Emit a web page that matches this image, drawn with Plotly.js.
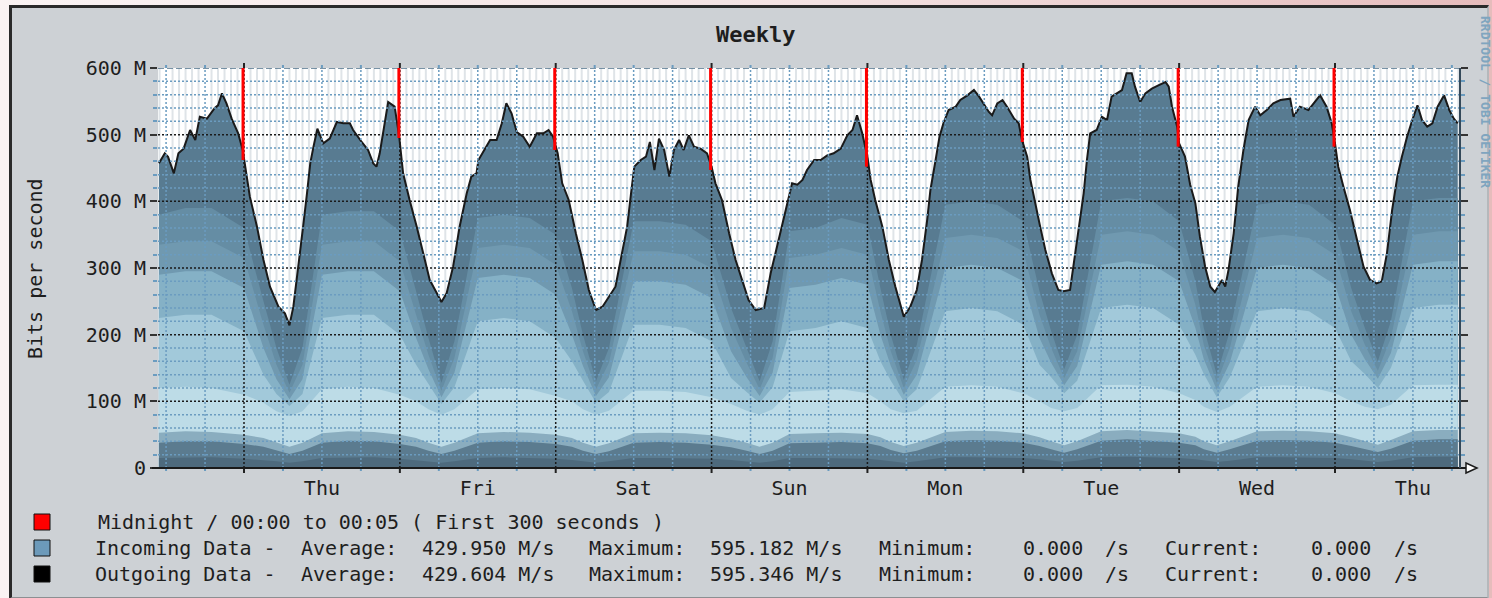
<!DOCTYPE html>
<html><head><meta charset="utf-8">
<script src="https://cdn.plot.ly/plotly-3.0.1.min.js"></script>
<style>
html,body{margin:0;padding:0;width:1492px;height:598px;overflow:hidden;background:linear-gradient(90deg,#faf3f3 0%,#f3e2e2 55%,#e6bcbc 100%);}
#frame{position:absolute;left:9px;top:5px;width:1475px;height:589px;background:#cdd1d5;border-top:3px solid #2a2a2a;border-left:3px solid #2a2a2a;border-bottom:2px solid #8c8f92;border-right:2px solid #b5b8bb;}
#chart{position:absolute;left:0;top:0;width:1492px;height:598px;}
</style></head><body><div id="frame"></div><div id="chart"></div>
<script>
// ---- data (hours since Wednesday 00:00, values in M bits/s) ----
const topHours = [10.9,11.8,12.3,13.2,13.9,14.7,15.7,16.5,17.2,18.3,19.5,20.0,20.6,21.3,22.1,23.1,23.8,24.4,24.9,26.0,27.0,28.0,29.3,30.3,31.0,31.6,32.4,33.1,33.7,34.2,34.7,35.3,36.2,37.2,38.3,39.3,40.3,40.8,41.9,43.1,43.9,44.4,44.9,45.7,46.2,47.2,47.9,
48.5,49.0,49.5,50.6,51.6,52.6,53.7,54.4,55.2,56.2,57.2,58.3,59.0,59.8,60.1,60.8,61.9,62.9,63.7,64.4,65.2,66.0,67.0,68.0,69.1,70.1,70.9,71.6,
72.3,73.0,74.0,75.1,76.1,77.1,78.2,79.2,80.2,81.2,82.0,83.0,83.6,84.1,85.1,85.9,86.5,87.2,87.9,88.7,89.5,90.2,91.0,91.7,92.5,93.3,94.3,95.3,96.0,
96.6,97.6,98.7,99.7,100.7,101.7,102.8,104.1,105.1,106.1,107.1,107.7,108.4,109.2,110.0,110.7,111.8,112.8,113.8,114.8,115.9,116.9,117.7,118.4,119.2,120.0,
120.5,121.2,122.3,123.3,124.3,125.6,126.6,127.6,128.4,129.2,129.7,130.5,131.1,131.7,132.5,133.6,134.3,135.4,136.4,137.2,137.9,138.7,139.2,140.0,140.8,141.5,142.6,143.3,143.8,
144.6,145.1,145.8,146.6,147.4,148.4,149.4,150.2,151.2,151.7,152.5,153.3,153.8,154.3,155.3,156.1,156.9,157.6,158.4,159.2,159.9,160.7,161.2,162.0,162.8,163.8,164.8,165.9,166.4,166.9,167.7,168.0,
168.9,169.7,170.5,171.2,172.0,172.8,173.5,174.6,175.1,175.6,176.4,177.1,177.9,178.7,179.7,180.5,181.5,182.5,183.6,185.1,185.6,186.6,187.9,188.9,189.7,190.7,191.5,192.0,
192.5,193.3,194.3,195.4,196.4,197.4,198.4,199.2,200.0,200.8,201.6,202.3,203.1,203.9,204.7,205.4,206.2,207.0,207.8,208.8,209.6,210.3,210.9];
const topValues = [457,472,467,442,472,479,507,492,527,524,540,544,562,547,524,502,477,442,407,362,312,272,242,232,214,242,302,362,412,457,482,509,487,494,519,517,517,507,492,477,457,452,472,517,549,542,497,
442,420,402,362,322,282,262,249,262,302,362,412,437,442,462,474,492,492,517,547,532,504,497,482,502,502,507,497,
472,427,402,352,312,267,237,242,257,272,312,362,412,452,462,467,489,447,494,477,437,477,492,477,499,482,479,472,452,
427,402,352,312,282,252,237,240,292,332,372,397,427,425,432,447,462,462,469,472,479,499,507,529,502,467,
432,402,362,312,272,227,242,267,312,372,417,462,497,517,537,542,552,559,567,557,547,534,529,547,552,542,524,517,492,
467,432,397,362,327,292,267,265,267,302,352,412,462,502,507,527,522,557,562,567,592,592,572,549,562,569,574,579,572,542,512,487,
467,425,397,347,302,272,264,282,272,297,352,422,477,522,542,529,537,547,552,554,527,542,537,549,559,542,517,487,
452,422,387,342,302,282,277,280,322,387,437,467,497,522,544,522,512,517,542,559,537,524,517];

const bandHours = [10.9,15,19,
 24,27,29,31,33,36,40,44,
 48,50.5,52.4,54.4,56.4,60,64,68,
 72,74.5,76.2,78.2,80.2,84,88,92,
 96,99,101.4,103.4,105.4,108,112,116,
 120,122,123.6,125.6,127.6,132,136,140,
 144,146.5,148.3,150.3,152.3,156,160,164,
 168,170.5,171.8,173.8,175.8,180,184,188,
 192,194.5,196.6,198.6,200.6,204,208,210.9];
const band7 = [380,390,390, 360,250,180,125,180,380,385,385, 355,265,195,128,190,375,380,375, 350,270,200,130,180,370,370,365, 340,240,180,130,190,355,360,375, 365,270,200,132,185,395,400,395, 370,265,205,148,200,400,405,400, 370,280,210,140,205,395,400,395, 365,270,210,160,220,400,405,405];
const band6 = [335,340,340, 315,215,155,113,155,335,340,340, 310,230,170,116,165,330,335,330, 305,235,175,118,158,325,325,320, 300,210,158,118,165,315,320,330, 320,235,175,120,162,345,350,345, 325,230,180,135,175,350,355,350, 325,245,185,128,180,345,350,345, 320,235,185,146,195,350,355,355];
const band5 = [290,295,295, 270,180,133,103,133,290,295,295, 265,195,148,106,143,285,290,285, 260,200,153,108,136,280,280,275, 255,175,136,108,143,270,275,285, 275,200,153,110,140,300,305,300, 280,195,158,124,153,305,310,305, 280,210,163,117,158,300,305,300, 275,200,163,134,172,305,310,310];
const band4 = [225,230,230, 205,140,111,93,111,225,230,230, 200,155,126,96,121,220,225,220, 195,160,131,98,114,215,215,210, 190,135,114,98,121,205,210,220, 210,160,131,100,118,235,240,235, 215,155,136,112,131,240,245,240, 215,170,141,106,136,235,240,235, 210,160,141,120,150,240,245,245];
const band3 = [120,122,120, 110,98,85,78,85,118,122,120, 110,100,88,80,88,118,120,118, 108,100,88,80,86,116,116,114, 106,96,86,80,88,114,116,118, 112,100,88,82,86,122,124,122, 112,100,90,85,90,124,125,122, 112,102,92,84,92,122,124,122, 112,100,92,88,95,124,125,125];
const band2 = [53,55,54, 50,45,38,32,38,52,55,54, 50,45,38,32,38,52,54,53, 50,45,38,32,37,52,53,52, 49,44,38,32,38,51,52,53, 51,46,39,33,38,54,56,55, 52,46,40,34,40,55,57,55, 52,47,40,34,40,55,56,55, 52,46,40,35,42,55,57,57];
const band1 = [38,40,40, 36,32,26,21,26,38,41,40, 36,32,26,21,26,38,40,39, 36,32,26,21,25,38,39,38, 35,31,26,21,26,37,38,39, 37,33,27,22,26,40,42,41, 38,33,28,23,28,41,43,41, 38,34,28,23,28,41,42,41, 38,33,28,24,29,41,43,43];
const band0 = [15,16,16, 14,12,10,8,10,15,16,16, 14,12,10,8,10,15,16,15, 14,12,10,8,10,15,15,15, 14,12,10,8,10,15,15,15, 14,12,10,8,10,16,16,16, 15,13,11,9,11,16,17,16, 15,13,11,9,11,16,16,16, 15,13,11,9,11,16,17,17];

const midnightHours = [24,48,72,96,120,144,168,192];
const midnightLow = [462,495,477,447,452,489,482,482];
const dayTickHours = [36,60,84,108,132,156,180,204];
const dayTickLabels = ['Thu','Fri','Sat','Sun','Mon','Tue','Wed','Thu'];
const yTickValues = [0,100,200,300,400,500,600];
const yTickLabels = ['0','100 M','200 M','300 M','400 M','500 M','600 M'];

const legendLabels = ['Midnight / 00:00 to 00:05 ( First 300 seconds )','Incoming Data -','Outgoing Data -'];
const legendColors = ['#ff0000','#6c9aba','#000000'];
const statNames = ['Average:','Maximum:','Minimum:','Current:'];
const incomingStats = ['429.950 M/s','595.182 M/s','0.000','0.000'];
const outgoingStats = ['429.604 M/s','595.346 M/s','0.000','0.000'];

// ---- drawing ----
const FONT = 'DejaVu Sans Mono';
const PL = 158, PR = 1460, PT = 68, PB = 468;
const px = v => (v - PL) / (PR - PL);
const py = v => (PB - v) / (PB - PT);

const traces = [];
traces.push({x: topHours, y: topValues, type: 'scatter', mode: 'lines', fill: 'tozeroy',
  fillcolor: '#587b91', line: {color: '#1a1a1a', width: 2}, hoverinfo: 'skip'});
const bands = [band7, band6, band5, band4, band3, band2, band1, band0];
const bandColors = ['#658da4','#7099b0','#85b1c6','#a2c9da','#bddce7','#8aadbf','#5b7b8f','#4e6a7d'];
bands.forEach((b, i) => traces.push({x: bandHours, y: b, type: 'scatter', mode: 'lines', fill: 'tozeroy',
  fillcolor: bandColors[i], line: {width: 0, color: bandColors[i]}, hoverinfo: 'skip'}));

const shapes = [];
for (let h = 11; h <= 211; h++) {
  if (h % 6 !== 0) shapes.push({type: 'line', xref: 'x', yref: 'paper', x0: h, x1: h, y0: 0, y1: 1,
    line: {color: '#dfe4e8', width: 2}, layer: 'below'});
}
for (let v = 20; v <= 600; v += 20) {
  const major = v % 100 === 0;
  let line = {color: major ? '#1a1a1a' : '#6b9cc0', width: 1.5, dash: '2px,2px'};
  if (v === 600) line = {color: '#4d7089', width: 1.5, dash: '6px,3px'};
  shapes.push({type: 'line', xref: 'paper', yref: 'y', x0: 0, x1: 1, y0: v, y1: v, line: line, layer: 'above'});
}
for (let h = 12; h <= 210; h += 6) {
  const major = h % 24 === 0;
  const col = major ? '#1a1a1a' : '#6b9cc0';
  shapes.push({type: 'line', xref: 'x', yref: 'paper', x0: h, x1: h, y0: 0, y1: 1,
    line: {color: col, width: 1.5, dash: '2px,2px'}, layer: 'above'});
  shapes.push({type: 'line', xref: 'x', yref: 'paper', x0: h, x1: h, y0: -(major ? 5 : 3) / 400, y1: 0,
    line: {color: major ? '#222' : '#6b9cc0', width: 2}, layer: 'above'});
  shapes.push({type: 'line', xref: 'x', yref: 'paper', x0: h, x1: h, y0: 1, y1: 1 + (major ? 5 : 3) / 400,
    line: {color: major ? '#222' : '#6b9cc0', width: 2}, layer: 'above'});
}
// midnight markers
midnightHours.forEach((h, i) => shapes.push({type: 'line', xref: 'x', yref: 'y', x0: h - 0.15, x1: h - 0.15,
  y0: midnightLow[i], y1: 600, line: {color: '#ff0000', width: 3}, layer: 'above'}));
// axis line with arrow, right border
shapes.push({type: 'line', xref: 'paper', yref: 'paper', x0: px(152), x1: px(1466), y0: 0, y1: 0,
  line: {color: '#1a1a1a', width: 2}, layer: 'above'});
shapes.push({type: 'path', xref: 'paper', yref: 'paper',
  path: `M ${px(1466)} ${py(463)} L ${px(1477)} ${py(468)} L ${px(1466)} ${py(473)} Z`,
  fillcolor: '#ffffff', line: {color: '#1a1a1a', width: 1.5}, layer: 'above'});
shapes.push({type: 'line', xref: 'paper', yref: 'paper', x0: 1, x1: 1, y0: 0, y1: 1,
  line: {color: '#34495a', width: 2}, layer: 'above'});
// legend boxes
const legendRowY = [522, 548, 574];
legendColors.forEach((c, i) => shapes.push({type: 'rect', xref: 'paper', yref: 'paper',
  x0: px(34), x1: px(50), y0: py(legendRowY[i] + 8), y1: py(legendRowY[i] - 8),
  fillcolor: c, line: {color: '#111', width: 1}}));

const ann = [];
const A = (text, x, y, o) => ann.push(Object.assign({text: text, x: px(x), y: py(y), xref: 'paper', yref: 'paper',
  showarrow: false, xanchor: 'left', yanchor: 'middle', font: {family: FONT, size: 20, color: '#1e1e1e'}}, o || {}));
A('<b>Weekly</b>', 755, 35, {xanchor: 'center', font: {family: FONT, size: 22, color: '#1e1e1e'}});
A('Bits per second', 35, 269, {xanchor: 'center', textangle: -90});
A('<b>RRDTOOL / TOBI OETIKER</b>', 1485, 102, {xanchor: 'center', textangle: 90, font: {family: FONT, size: 13, color: '#7fa5bf'}});
A(legendLabels[0], 96, legendRowY[0]);
const nameX = [299, 587, 877, 1163];
const valX = [420, 708, 1021, 1309];
const unitX = [1103, 1392];
[incomingStats, outgoingStats].forEach((stats, r) => {
  const y = legendRowY[r + 1];
  A(legendLabels[r + 1], 93, y);
  statNames.forEach((n, k) => A(n, nameX[k], y));
  stats.forEach((s, k) => A(s, valX[k], y));
  unitX.forEach(ux => A('/s', ux, y));
});

const layout = {
  width: 1492, height: 598,
  margin: {l: PL, r: 1492 - PR, t: PT, b: 598 - PB, pad: 0},
  paper_bgcolor: 'rgba(0,0,0,0)', plot_bgcolor: '#ffffff',
  showlegend: false,
  font: {family: FONT, size: 20, color: '#1e1e1e'},
  xaxis: {range: [10.757, 211.25], tickvals: dayTickHours, ticktext: dayTickLabels, ticks: '',
    showgrid: false, zeroline: false, showline: false, automargin: false, fixedrange: true,
    ticklabelstandoff: 6, tickfont: {family: FONT, size: 20, color: '#1e1e1e'}},
  yaxis: {range: [0, 600], tickvals: yTickValues, ticktext: yTickLabels, ticks: 'outside', ticklen: 7,
    tickwidth: 2, tickcolor: '#333', showgrid: false, zeroline: false, showline: false, mirror: 'ticks',
    automargin: false, fixedrange: true, tickfont: {family: FONT, size: 20, color: '#1e1e1e'},
    minor: {dtick: 20, ticks: 'outside', ticklen: 4, tickwidth: 2, tickcolor: '#6b9cc0', showgrid: false}},
  shapes: shapes,
  annotations: ann
};
Plotly.newPlot('chart', traces, layout, {displayModeBar: false, staticPlot: true});
</script></body></html>
